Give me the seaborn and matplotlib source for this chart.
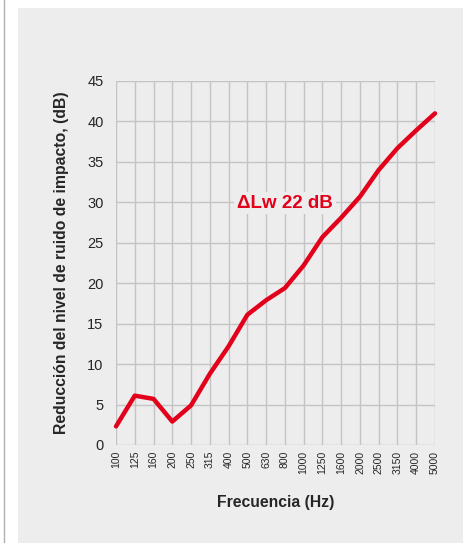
import pandas as pd
import seaborn as sns
import matplotlib.pyplot as plt
from matplotlib.patches import Rectangle
from matplotlib.lines import Line2D

# Datos
frecuencias = ["100", "125", "160", "200", "250", "315", "400", "500", "630",
               "800", "1000", "1250", "1600", "2000", "2500", "3150", "4000", "5000"]
reduccion = [2.3, 6.1, 5.7, 2.9, 4.9, 8.8, 12.2, 16.1, 17.9,
             19.4, 22.2, 25.7, 28.1, 30.7, 34.0, 36.7, 38.9, 41.0]
y_ticks = [0, 5, 10, 15, 20, 25, 30, 35, 40, 45]
etiqueta = "\u0394Lw 22 dB"

rojo = "#e2001a"
fondo = "#ededed"
rejilla = "#c4c4c4"

df = pd.DataFrame({"frecuencia": frecuencias, "reduccion": reduccion})

sns.set_style("white")
plt.rcParams['font.family'] = ['Liberation Sans', 'DejaVu Sans']

fig = plt.figure(figsize=(4.65, 5.43), dpi=100)
fig.patch.set_facecolor("white")
# panel gris de fondo y línea fina a la izquierda
fig.patches.append(Rectangle((18 / 465, 0), 445 / 465, (543 - 8) / 543,
                             transform=fig.transFigure, facecolor=fondo,
                             edgecolor="none", zorder=-10))
fig.lines.append(Line2D([3.5 / 465, 3.5 / 465], [0, 1], transform=fig.transFigure,
                        color="#b0b0b0", linewidth=1))

ax = fig.add_axes([116 / 465, (543 - 445) / 543, (435 - 116) / 465, (445 - 81) / 543])
ax.set_facecolor(fondo)

sns.lineplot(data=df, x="frecuencia", y="reduccion", ax=ax, color=rojo,
             linewidth=3.2, sort=False, clip_on=False, zorder=5)

ax.set_xlim(0, len(frecuencias) - 1)
ax.set_ylim(0, 45)
ax.set_yticks(y_ticks)
ax.set_xticks(range(len(frecuencias)))
ax.set_xticklabels(frecuencias, rotation=90, fontsize=7.5)
ax.tick_params(axis="y", labelsize=10.5, length=6, width=1, color=rejilla, pad=3)
ax.tick_params(axis="x", length=0, pad=4)
ax.grid(True, color=rejilla, linewidth=1)
for s in ax.spines.values():
    s.set_visible(False)

ax.set_xlabel("Frecuencia (Hz)", fontsize=11.3, fontweight="bold", labelpad=15)
ax.set_ylabel("Reducción del nivel de ruido de impacto, (dB)", fontsize=11.3,
              fontweight="bold", labelpad=13)

ax.text(9.0, 29.9, etiqueta, color=rojo, fontsize=13.5, fontweight="bold",
        ha="center", va="center", zorder=4,
        bbox=dict(facecolor=fondo, edgecolor="none", pad=2))

fig.savefig("out.png", dpi=100)
